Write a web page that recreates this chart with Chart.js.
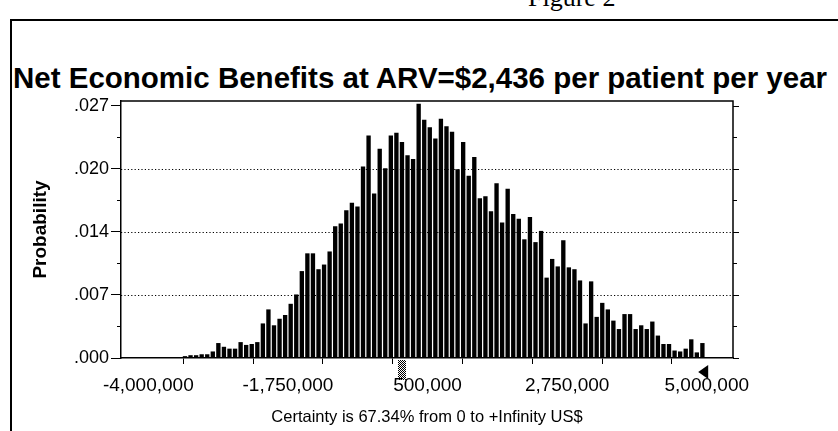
<!DOCTYPE html>
<html>
<head>
<meta charset="utf-8">
<script src="https://cdn.jsdelivr.net/npm/chart.js"></script>
<style>
  html, body { margin:0; padding:0; background:#fff; }
  #page { position:relative; width:838px; height:431px; overflow:hidden; }
  #figLabel { position:absolute; left:528px; top:-15px; font-family:"Liberation Serif", serif; font-size:26px; line-height:26px; white-space:nowrap; }
  #frame { position:absolute; left:10px; top:19px; width:840px; height:420px; border-left:2px solid #000; border-top:2px solid #000; }
  #title { position:absolute; left:13px; top:63px; margin:0; font:bold 29.5px "Liberation Sans", Arial, sans-serif; line-height:30px; white-space:nowrap; }
  #box { position:absolute; left:0; top:0; width:838px; height:431px; }
</style>
</head>
<body>
<div id="page">
  <div id="figLabel">Figure 2</div>
  <div id="frame"></div>
  <h1 id="title">Net Economic Benefits at ARV=$2,436 per patient per year</h1>
  <div id="box"><canvas id="hist"></canvas></div>
</div>
<script>
// histogram cells (US$)
const binStart = -4440000;
const binWidth = 89664;
const probabilities = [
  0, 0, 0, 0, 0, 0, 0.0001, 0, 0, 0,
  0.0001, 0.0002, 0.0003, 0.0003, 0.0004, 0.0004, 0.0007, 0.0016, 0.0012, 0.0010,
  0.0010, 0.0017, 0.0014, 0.0015, 0.0017, 0.0037, 0.0052, 0.0035, 0.0042, 0.0046,
  0.0058, 0.0068, 0.0093, 0.0112, 0.0112, 0.0095, 0.0100, 0.0114, 0.0141, 0.0144,
  0.0158, 0.0166, 0.0162, 0.0205, 0.0238, 0.0176, 0.0224, 0.0203, 0.0238, 0.0241,
  0.0231, 0.0217, 0.0213, 0.0272, 0.0255, 0.0247, 0.0235, 0.0256, 0.0248, 0.0242,
  0.0202, 0.0231, 0.0195, 0.0215, 0.0171, 0.0173, 0.0157, 0.0187, 0.0145, 0.0181,
  0.0154, 0.0149, 0.0127, 0.0151, 0.0124, 0.0136, 0.0086, 0.0106, 0.0098, 0.0126,
  0.0097, 0.0095, 0.0083, 0.0037, 0.0082, 0.0044, 0.0059, 0.0052, 0.0040, 0.0031,
  0.0047, 0.0047, 0.0031, 0.0035, 0.0031, 0.0039, 0.0024, 0.0015, 0.0015, 0.0008,
  0.0007, 0.0010, 0.0020, 0.0006, 0.0016, 0, 0, 0, 0, 0
];
const xMin = -4440000;
const xMax = 5423000;
const xTicks = [-4000000, -1750000, 500000, 2750000, 5000000];
const yMax = 0.0275;
const yTicks = [0, 0.00675, 0.0135, 0.02025, 0.027];
const yTickLabels = ['.000', '.007', '.014', '.020', '.027'];
const certaintyFrom = 0;
const certaintyTo = binStart + 105 * binWidth; // last filled cell edge = +Infinity grabber
const certaintyText = 'Certainty is 67.34% from 0 to +Infinity US$';

const points = probabilities.map((p, i) => ({ x: binStart + (i + 0.5) * binWidth, y: p }));

function minorsOf(list) {
  const out = [];
  for (let i = 0; i < list.length - 1; i++) out.push((list[i] + list[i + 1]) / 2);
  return out;
}

// dotted gridlines behind the bars
const dottedGrid = {
  id: 'dottedGrid',
  beforeDatasetsDraw(chart) {
    const { ctx, chartArea: a, scales: { y } } = chart;
    ctx.save();
    ctx.strokeStyle = '#000';
    ctx.lineWidth = 1.2;
    ctx.setLineDash([1.2, 2.2]);
    yTicks.slice(1, -1).forEach(v => {
      const py = Math.round(y.getPixelForValue(v)) + 0.5;
      ctx.beginPath(); ctx.moveTo(a.left, py); ctx.lineTo(a.right, py); ctx.stroke();
    });
    ctx.restore();
  }
};

// frame, minor ticks, certainty grabbers
const decor = {
  id: 'decor',
  afterDraw(chart) {
    const { ctx, chartArea: a, scales: { x, y } } = chart;
    ctx.save();
    ctx.strokeStyle = '#000';
    ctx.lineWidth = 1.5;
    ctx.beginPath();
    ctx.moveTo(a.left, a.top); ctx.lineTo(a.right, a.top); ctx.lineTo(a.right, a.bottom);
    ctx.stroke();

    ctx.lineWidth = 1;
    ctx.beginPath();
    yTicks.forEach(v => { const py = Math.round(y.getPixelForValue(v)) + 0.5; ctx.moveTo(a.right, py); ctx.lineTo(a.right + 6, py); });
    minorsOf(yTicks).forEach(v => {
      const py = Math.round(y.getPixelForValue(v)) + 0.5;
      ctx.moveTo(a.right, py); ctx.lineTo(a.right + 4, py);
      ctx.moveTo(a.left, py); ctx.lineTo(a.left - 4, py);
    });
    ctx.stroke();

    // hatched grabber at the lower certainty bound
    const gx = Math.round(x.getPixelForValue(certaintyFrom)) + 1;
    ctx.fillStyle = '#000';
    for (let yy = 0; yy < 20; yy++) {
      for (let xx = 0; xx < 8; xx++) {
        if ((xx + yy) % 2 === 0) ctx.fillRect(gx + xx, a.bottom + 2 + yy, 1, 1);
      }
    }
    // solid triangle grabber at the upper bound
    const tx = x.getPixelForValue(certaintyTo);
    ctx.beginPath();
    ctx.moveTo(tx - 7, a.bottom + 14);
    ctx.lineTo(tx + 3, a.bottom + 7);
    ctx.lineTo(tx + 3, a.bottom + 21);
    ctx.closePath();
    ctx.fill();
    ctx.restore();
  }
};

Chart.defaults.font.family = '"Liberation Sans", Arial, sans-serif';
Chart.defaults.color = '#000';

new Chart(document.getElementById('hist'), {
  type: 'bar',
  data: {
    datasets: [{
      data: points,
      backgroundColor: '#000',
      borderWidth: 0,
      barPercentage: 0.78,
      categoryPercentage: 1
    }]
  },
  options: {
    responsive: true,
    maintainAspectRatio: false,
    animation: false,
    layout: { padding: { top: 101, right: 105, left: 0, bottom: 0 } },
    plugins: { legend: { display: false }, tooltip: { enabled: false } },
    scales: {
      x: {
        type: 'linear',
        min: xMin,
        max: xMax,
        offset: false,
        afterBuildTicks(s) {
          const all = xTicks.concat(minorsOf(xTicks)).sort((p, q) => p - q);
          s.ticks = all.map(v => ({ value: v }));
        },
        afterFit(s) { s.height = 73; },
        ticks: {
          autoSkip: false,
          maxRotation: 0,
          padding: 10,
          font: { size: 19 },
          callback: v => xTicks.includes(v) ? v.toLocaleString('en-US') : ''
        },
        grid: { drawOnChartArea: false, drawTicks: true, tickLength: 6, color: '#000', tickColor: '#000' },
        border: { display: true, color: '#000', width: 1.5 },
        title: { display: true, text: certaintyText, font: { size: 16.5 }, padding: { top: 0, bottom: 4 } }
      },
      y: {
        min: 0,
        max: yMax,
        afterBuildTicks(s) { s.ticks = yTicks.map(v => ({ value: v })); },
        afterFit(s) { s.width = 121; },
        ticks: {
          padding: 2,
          font: { size: 18 },
          callback: (v, i) => yTickLabels[i]
        },
        grid: {
          drawOnChartArea: false,
          drawTicks: true,
          tickLength: 10,
          color: '#000',
          tickColor: '#000'
        },
        border: { display: true, color: '#000', width: 1.5 },
        title: { display: true, text: 'Probability', font: { size: 19, weight: 'bold' }, padding: { top: 29, bottom: 0 } }
      }
    }
  },
  plugins: [dottedGrid, decor]
});
</script>
</body>
</html>
